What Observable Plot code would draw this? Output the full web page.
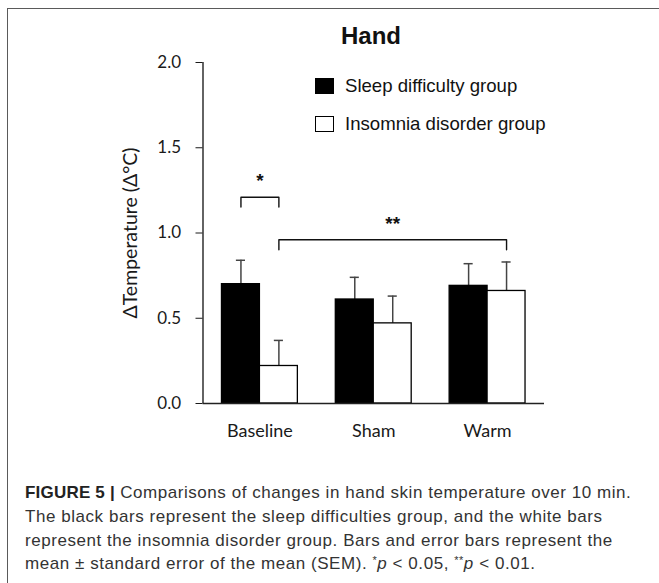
<!DOCTYPE html>
<html>
<head>
<meta charset="utf-8">
<script src="https://cdn.jsdelivr.net/npm/d3@7"></script>
<script src="https://cdn.jsdelivr.net/npm/@observablehq/plot@0.6"></script>
<style>
  html, body { margin: 0; padding: 0; background: #fff; }
  #fig { position: relative; width: 659px; height: 583px; overflow: hidden; background: #fff; }
  #frame { position: absolute; left: 7px; top: 8px; right: -20px; bottom: -20px;
           border-left: 1.5px solid #5a5a5a; border-top: 1.5px solid #5a5a5a; }
  #chart { position: absolute; left: 0; top: 0; }
  #title { position: absolute; left: 271px; width: 200px; top: 22px; text-align: center;
           font: bold 24px "Liberation Sans", Arial, sans-serif; color: #111; }
  #legend { position: absolute; left: 315px; top: 67px; font: 18.6px "Liberation Sans", Arial, sans-serif; color: #111; }
  #legend .row { display: flex; align-items: center; height: 38px; }
  #legend .sw { width: 19px; height: 16px; box-sizing: border-box; border: 1.3px solid #000; margin-right: 11px; }
  #caption { position: absolute; left: 25px; top: 481px; width: 640px;
             font: 17px/23.8px "Liberation Sans", Arial, sans-serif; letter-spacing: 0.55px; color: #333; white-space: nowrap; }
  #caption b { color: #222; letter-spacing: 0.2px; }
  #caption sup { font-size: 11px; vertical-align: 5px; line-height: 0; }
</style>
</head>
<body>
<div id="fig">
  <div id="frame"></div>
  <div id="chart"></div>
  <div id="title">Hand</div>
  <div id="legend"></div>
  <div id="caption">
    <b>FIGURE 5 |</b> Comparisons of changes in hand skin temperature over 10 min.<br>
    The black bars represent the sleep difficulties group, and the white bars<br>
    represent the insomnia disorder group. Bars and error bars represent the<br>
    mean ± standard error of the mean (SEM). <sup>*</sup><i>p</i> &lt; 0.05, <sup>**</sup><i>p</i> &lt; 0.01.
  </div>
</div>
<script>
// Conditions on the x axis
const conditions = ["Baseline", "Sham", "Warm"];

// Group names and bar fills
const groupNames = ["Sleep difficulty group", "Insomnia disorder group"];
const groupFills = ["#000000", "#ffffff"];

// Mean change in hand temperature (Δ°C) and SEM
const sleepMean = [0.70, 0.61, 0.69];
const sleepSem = [0.14, 0.13, 0.13];
const insomniaMean = [0.22, 0.47, 0.66];
const insomniaSem = [0.15, 0.16, 0.17];

// Y ticks and axis title
const yTicks = [0, 0.5, 1.0, 1.5, 2.0];
const yTitle = "ΔTemperature (Δ°C)";

// Significance brackets: [condition index, group index] at each end
const brackets = [
  {from: [0, 0], to: [0, 1], level: 1.21, label: "*"},
  {from: [0, 1], to: [2, 1], level: 0.96, label: "**"}
];

// Each condition occupies one unit of x; the two bars sit side by side in its middle third
const barWidth = 1 / 3;
const barLeft = (ci, gi) => ci + barWidth / 2 + gi * barWidth;
const barCenter = (ci, gi) => barLeft(ci, gi) + barWidth / 2;

const rows = conditions.flatMap((c, ci) => [
  {condition: c, ci, gi: 0, mean: sleepMean[ci], sem: sleepSem[ci]},
  {condition: c, ci, gi: 1, mean: insomniaMean[ci], sem: insomniaSem[ci]}
]).map(d => ({
  ...d,
  x1: barLeft(d.ci, d.gi),
  x2: barLeft(d.ci, d.gi) + barWidth,
  xc: barCenter(d.ci, d.gi),
  top: d.mean + d.sem,
  fill: groupFills[d.gi]
}));

const drop = 0.058;
const bracketPath = brackets.flatMap((b, k) => {
  const xa = barCenter(...b.from), xb = barCenter(...b.to);
  return [
    {k, x: xa, y: b.level - drop},
    {k, x: xa, y: b.level},
    {k, x: xb, y: b.level},
    {k, x: xb, y: b.level - drop}
  ];
});
const bracketLabels = brackets.map(b => ({
  x: (barCenter(...b.from) + barCenter(...b.to)) / 2,
  y: b.level,
  label: b.label
}));

const capHalf = 0.04;

const chart = Plot.plot({
  width: 659,
  height: 450,
  marginLeft: 202.5,
  marginRight: 115,
  marginTop: 62,
  marginBottom: 47,
  style: {fontFamily: "Lato, 'Open Sans', sans-serif", fontSize: "17px", color: "#1a1a1a", background: "transparent"},
  x: {domain: [0, 3]},
  y: {domain: [0, 2]},
  marks: [
    Plot.ruleX(rows, {x: "xc", y1: "mean", y2: "top", stroke: "#444", strokeWidth: 1.5}),
    Plot.ruleY(rows, {y: "top", x1: d => d.xc - capHalf, x2: d => d.xc + capHalf, stroke: "#444", strokeWidth: 1.5}),
    Plot.rectY(rows, {x1: "x1", x2: "x2", y1: 0, y2: "mean", fill: "fill", stroke: "#000", strokeWidth: 1.3}),
    Plot.line(bracketPath, {x: "x", y: "y", z: "k", stroke: "#111", strokeWidth: 1.4}),
    Plot.text(bracketLabels, {x: "x", y: "y", text: "label", dy: -16, fontSize: 19, fontWeight: "bold", fontFamily: "'Liberation Sans', Arial, sans-serif", fill: "#111"}),
    Plot.ruleX([0], {stroke: "#222", strokeWidth: 1.4}),
    Plot.ruleY([0], {stroke: "#222", strokeWidth: 1.4}),
    Plot.axisY({ticks: yTicks, tickFormat: d3.format(".1f"), tickSize: 7, tickPadding: 15, label: null}),
    Plot.text([yTitle], {frameAnchor: "left", textAnchor: "middle", rotate: -90, dx: -72, fontSize: 19.5, fill: "#1a1a1a"}),
    Plot.axisX({ticks: [0.5, 1.5, 2.5], tickFormat: d => conditions[Math.floor(d)], tickSize: 0, tickPadding: 21, fontSize: 18, label: null})
  ]
});
document.getElementById("chart").appendChild(chart);

// Legend
const legend = document.getElementById("legend");
groupNames.forEach((name, i) => {
  const row = document.createElement("div");
  row.className = "row";
  const sw = document.createElement("div");
  sw.className = "sw";
  sw.style.background = groupFills[i];
  const label = document.createElement("span");
  label.textContent = name;
  row.append(sw, label);
  legend.appendChild(row);
});
</script>
</body>
</html>
